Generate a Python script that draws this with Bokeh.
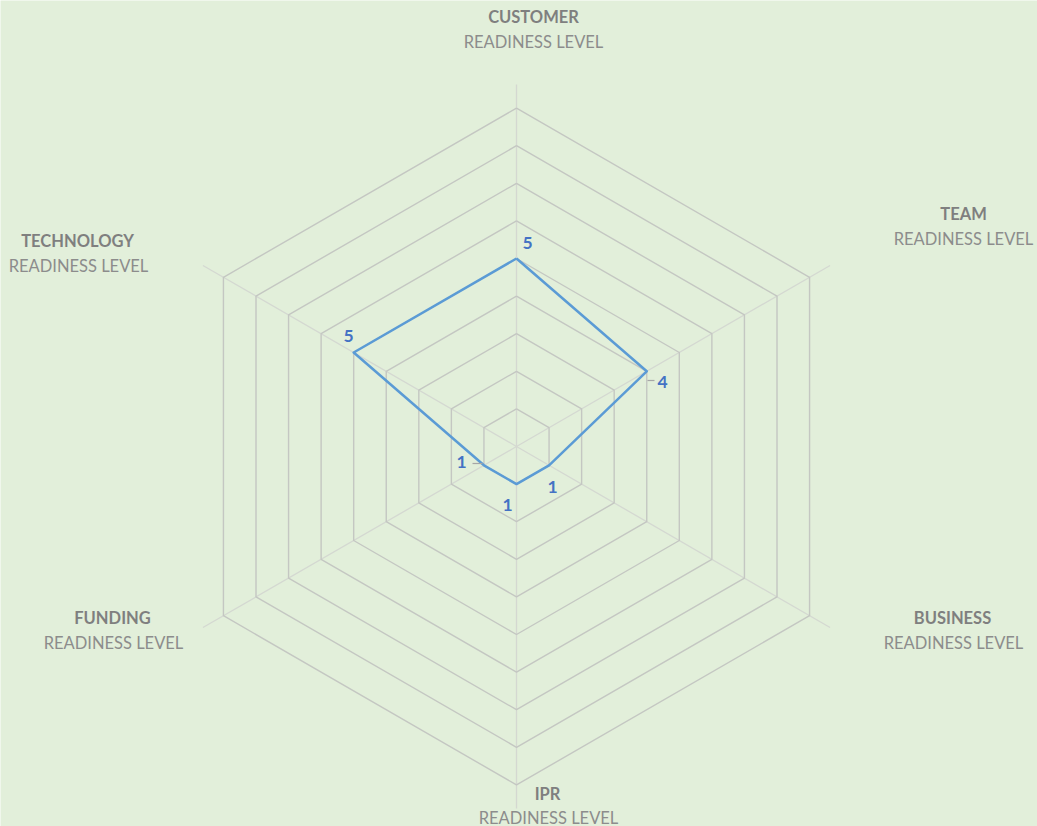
import numpy as np
from bokeh.plotting import figure
from bokeh.models import Range1d
from bokeh.core.properties import value
from bokeh.embed import file_html
from bokeh.resources import INLINE

# ---- data ----
categories = ["CUSTOMER", "TEAM", "BUSINESS", "IPR", "FUNDING", "TECHNOLOGY"]
subtitle = "READINESS LEVEL"
scores = [5, 4, 1, 1, 1, 5]
levels = [1, 2, 3, 4, 5, 6, 7, 8, 9]
score_labels = ["5", "4", "1", "1", "1", "5"]

# ---- layout ----
W, H = 1037, 826
U = 37.6                 # px per level
CX, CY = 516, 446        # center in figure px (from top-left)
BG = "#E2EFDA"

p = figure(width=W, height=H, output_backend="svg", toolbar_location=None,
           x_range=Range1d(-CX / U, (W - CX) / U),
           y_range=Range1d(-(H - CY) / U, CY / U),
           min_border=0, background_fill_color=BG, border_fill_color=BG,
           outline_line_color=None)
p.axis.visible = False
p.grid.visible = False

n = len(categories)
ang = np.pi / 2 - np.arange(n) * 2 * np.pi / n  # clockwise from top

# spokes
spoke_r = 9.63
for a in ang:
    p.line([0, spoke_r * np.cos(a)], [0, spoke_r * np.sin(a)],
           line_color="#D4D8D1", line_width=1.3)

# rings
for lv in levels:
    xs = list(lv * np.cos(ang)) + [lv * np.cos(ang[0])]
    ys = list(lv * np.sin(ang)) + [lv * np.sin(ang[0])]
    p.line(xs, ys, line_color="#C4C7C2", line_width=1.4)

# data polygon
sx = np.array(scores) * np.cos(ang)
sy = np.array(scores) * np.sin(ang)
p.line(list(sx) + [sx[0]], list(sy) + [sy[0]], line_color="#5B9BD5",
       line_width=2.5, line_join="round")

def to_data(px, py):
    return (px - CX) / U, (CY - py) / U

# leader lines (ref px)
for (x0, y0, x1, y1) in [(647, 380, 654, 380), (472, 463, 482, 463)]:
    a0 = to_data(x0, y0); a1 = to_data(x1, y1)
    p.line([a0[0], a1[0]], [a0[1], a1[1]], line_color="#A6A6A6", line_width=1.2)

# data labels (ref px positions)
lab_px = [(527, 242), (662, 381), (552, 486), (507, 504), (461, 461), (348, 335)]
lx = [to_data(*q)[0] for q in lab_px]
ly = [to_data(*q)[1] for q in lab_px]
p.text(lx, ly, text=score_labels, text_color="#4472C4", text_font=value("Lato"),
       text_font_size="17.5px", text_font_style="bold",
       text_align="center", text_baseline="middle")

# category labels
cat_px = [(533, 16), (963, 213), (952, 617), (547, 793), (112, 617), (77, 240)]
sub_px = [(533, 41), (963, 238), (953, 642), (548, 817), (113, 642), (78, 265)]
cx_ = [to_data(*q)[0] for q in cat_px]
cy_ = [to_data(*q)[1] for q in cat_px]
p.text(cx_, cy_, text=categories, text_color="#7F7F7F", text_font=value("Lato"),
       text_font_size="16.5px", text_font_style="bold",
       text_align="center", text_baseline="middle")
sx_ = [to_data(*q)[0] for q in sub_px]
sy_ = [to_data(*q)[1] for q in sub_px]
p.text(sx_, sy_, text=[subtitle] * n, text_color="#8C8C8C", text_font=value("Lato"),
       text_font_size="16.5px", text_align="center", text_baseline="middle")

open("out.html", "w").write(file_html(p, INLINE))
